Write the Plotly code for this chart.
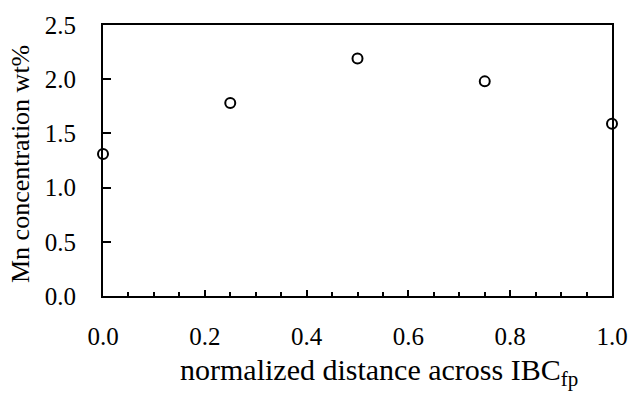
import plotly.graph_objects as go

x_vals = [0.0, 0.25, 0.5, 0.75, 1.0]
mn_wt = [1.31, 1.78, 2.19, 1.98, 1.59]
x_ticks = [0.0, 0.2, 0.4, 0.6, 0.8, 1.0]
x_labels = ["0.0", "0.2", "0.4", "0.6", "0.8", "1.0"]
y_ticks = [0.0, 0.5, 1.0, 1.5, 2.0, 2.5]
y_labels = ["0.0", "0.5", "1.0", "1.5", "2.0", "2.5"]
x_title = "normalized distance across IBC<sub>fp</sub>"
y_title = "Mn concentration wt%"

font_family = "Liberation Serif"

fig = go.Figure()
fig.add_trace(go.Scatter(
    x=x_vals, y=mn_wt, mode="markers",
    marker=dict(symbol="circle", size=10, color="white",
                line=dict(color="black", width=2)),
    cliponaxis=False, showlegend=False,
))

fig.update_layout(
    width=630, height=393,
    margin=dict(l=103, r=18, t=25, b=97),
    plot_bgcolor="white", paper_bgcolor="white",
    font=dict(family=font_family, size=25, color="black"),
    xaxis=dict(
        range=[0, 1], tickvals=x_ticks, ticktext=x_labels,
        showgrid=False, zeroline=False,
        showline=True, linecolor="black", linewidth=2, mirror=True,
        ticks="inside", ticklen=6, tickwidth=1.5, tickcolor="black",
        minor=dict(dtick=0.05, ticks="inside", ticklen=4, tickwidth=1.5, tickcolor="black"),
        ticklabelstandoff=17,
        tickfont=dict(family=font_family, size=25),
        automargin=False,
    ),
    yaxis=dict(
        range=[0, 2.5], tickvals=y_ticks, ticktext=y_labels,
        showgrid=False, zeroline=False,
        showline=True, linecolor="black", linewidth=2, mirror=True,
        ticks="inside", ticklen=8, tickwidth=1.5, tickcolor="black",
        ticklabelstandoff=20,
        tickfont=dict(family=font_family, size=25),
        automargin=False,
    ),
    annotations=[
        dict(text=x_title, xref="paper", yref="paper",
             x=(379 - 103) / 509, y=(296 - 372) / 271,
             xanchor="center", yanchor="middle", showarrow=False,
             font=dict(family=font_family, size=30, color="black")),
        dict(text=y_title, xref="paper", yref="paper",
             x=(21 - 103) / 509, y=(296 - 164) / 271, textangle=-90,
             xanchor="center", yanchor="middle", showarrow=False,
             font=dict(family=font_family, size=26, color="black")),
    ],
)

fig.write_html("out.html")
